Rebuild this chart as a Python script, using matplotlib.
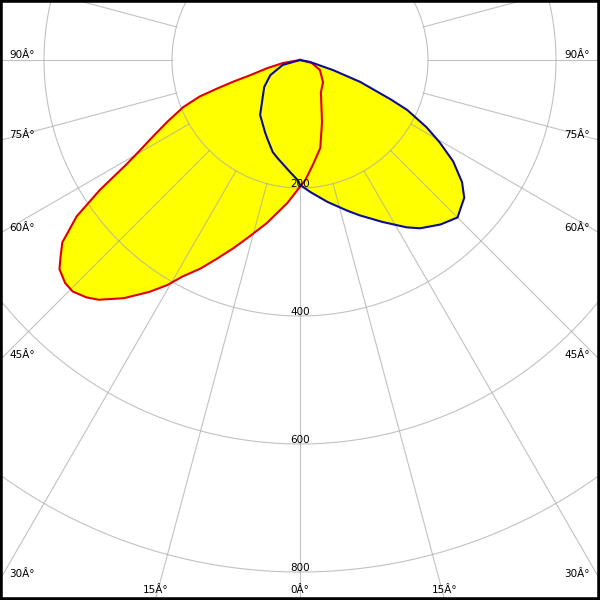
import matplotlib
matplotlib.use('Agg')
import matplotlib.pyplot as plt
import numpy as np

# intensity curves, gamma in degrees (negative = left half), values in cd
red_gamma = [-90, -80, -76, -73, -72, -71, -70, -68, -65, -62, -60.5, -59, -57, -55,
             -52.5, -50.5, -49, -46.5, -44.5, -42, -40, -36.5, -33, -30.5, -28.5,
             -25.5, -22.5, -19.5, -16, -11.5, -5, 0, 2.5, 7, 13, 19.5, 33, 46, 63, 76, 90]
red_cd = [0, 27, 53, 82, 110, 137, 167, 197, 229, 266, 288, 316, 373, 426,
          468, 485, 498, 506, 507, 499, 489, 463, 432, 408, 385,
          361, 335, 312, 287, 260, 224, 198, 188, 165, 141, 103, 60, 50, 35, 19, 0]

blue_gamma = [-90, -74, -63, -53, -36, -26, -23, -16.5, -13, -5, -1, 0, 4.5, 11, 17.5, 21,
              27, 32.5, 35.5, 40.5, 45, 50, 53, 56.5, 59.5, 62, 65, 66.5, 70, 73, 79, 90]
blue_cd = [0, 28, 52, 70, 106, 125, 132, 150, 157, 176, 188, 195, 207, 226, 247, 260,
           284, 310, 323, 338, 348, 335, 317, 287, 253, 224, 185, 155, 100, 54, 16, 0]

rings = [200, 400, 600, 800]
ring_labels = ['200', '400', '600', '800']
rays = np.arange(-180, 180, 15)
edge_angles = [-90, -75, -60, -45, -30, -15, 0, 15, 30, 45, 60, 75, 90]

px = 1 / 0.64  # data units per pixel
x0, x1 = -300 * px, 300 * px
y0, y1 = -540 * px, 60 * px


def to_xy(g, r):
    g = np.radians(np.asarray(g, dtype=float))
    r = np.asarray(r, dtype=float)
    return r * np.sin(g), -r * np.cos(g)


fig = plt.figure(figsize=(6, 6), dpi=100)
ax = fig.add_axes([0, 0, 1, 1])
ax.set_xlim(x0, x1)
ax.set_ylim(y0, y1)
ax.set_aspect('equal')
ax.set_xticks([])
ax.set_yticks([])
for s in ax.spines.values():
    s.set_color('black')
    s.set_linewidth(4)

# yellow fills
for g, c in [(red_gamma, red_cd), (blue_gamma, blue_cd)]:
    x, y = to_xy(g, c)
    ax.fill(x, y, color='#ffff00', lw=0, zorder=1)

# grid
t = np.linspace(0, 360, 721)
for r in rings:
    x, y = to_xy(t, np.full_like(t, r))
    ax.plot(x, y, color='#a8a8a8', alpha=0.7, lw=0.8, zorder=2)
for a in rays:
    x, y = to_xy([a, a], [rings[0], 1200])
    ax.plot(x, y, color='#a8a8a8', alpha=0.7, lw=0.8, zorder=2)

# curves
x, y = to_xy(red_gamma, red_cd)
ax.plot(x, y, color='#e00000', lw=1.5, zorder=3)
x, y = to_xy(blue_gamma, blue_cd)
ax.plot(x, y, color='#0c0c96', lw=1.5, zorder=3)

# ring value labels
for r, lab in zip(rings, ring_labels):
    ax.text(0, -r + 1 * px, lab, ha='center', va='baseline', fontsize=7.5, zorder=4)

# angle labels on the edges
for a in edge_angles:
    rad = np.radians(a)
    if abs(a) >= 30:
        ey = -abs(x0) / np.tan(abs(rad)) if abs(a) != 90 else 0
        if a < 0:
            ax.text(x0 + 9 * px, ey + 2.5 * px, str(abs(a)) + 'Â°', ha='left',
                    va='baseline', fontsize=7.5, zorder=4)
        else:
            ax.text(x1 - 10 * px, ey + 2.5 * px, str(abs(a)) + 'Â°', ha='right',
                    va='baseline', fontsize=7.5, zorder=4)
    else:
        ex = -y0 * np.tan(rad)
        ax.text(ex, y0 + 7 * px, str(abs(a)) + 'Â°', ha='center', va='baseline',
                fontsize=7.5, zorder=4)

fig.savefig('out.png', dpi=100)
